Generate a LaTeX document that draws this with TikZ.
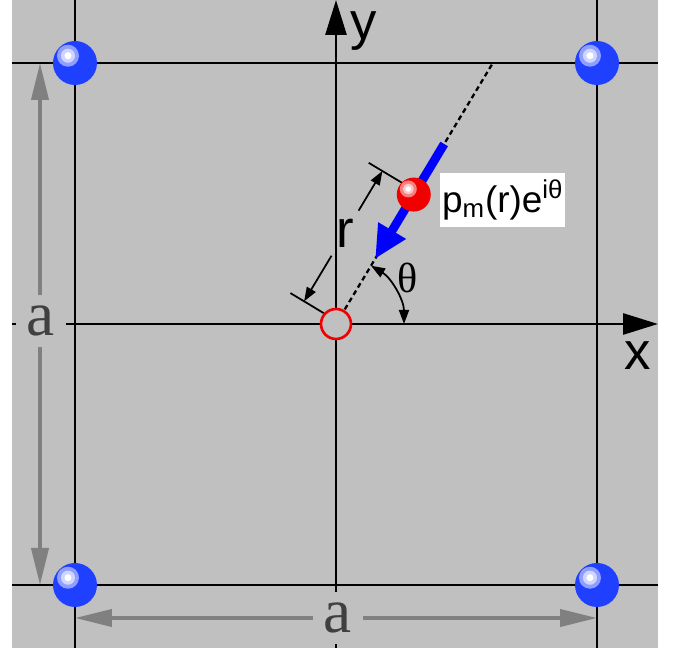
\documentclass[tikz,border=0pt]{standalone}
\usepackage{fontspec}
\setmainfont{Liberation Sans}
\newfontfamily\seriffont{Liberation Serif}
\usetikzlibrary{arrows.meta, calc}

\definecolor{bggray}{RGB}{192,192,192}
\definecolor{dimgray}{RGB}{128,128,128}
\definecolor{txtgray}{RGB}{64,64,64}
\definecolor{atomblue}{RGB}{32,64,255}
\definecolor{atomred}{RGB}{240,0,0}

% 小球：位置、半径、颜色
\newcommand{\ball}[3]{%
	\begin{scope}[shift={(#1)}]
		\fill[#3] (0,0) circle (#2);
		\fill[#3!50!white] (-0.32*#2,0.33*#2) circle (0.5*#2);
		\fill[#3!22!white] (-0.32*#2,0.33*#2) circle (0.32*#2);
		\fill[white] (-0.32*#2,0.33*#2) circle (0.16*#2);
	\end{scope}}

\begin{document}
\begin{tikzpicture}[>={Triangle[length=0.28cm, width=0.2cm]},
	latline/.style={line width=1.6pt},
	axisline/.style={line width=1.6pt, -{Triangle[length=0.7cm, width=0.42cm]}},
	dimarrow/.style={dimgray, line width=2.3pt, {Triangle[length=0.74cm, width=0.34cm]}-{Triangle[length=0.74cm, width=0.34cm]}},
	alabel/.style={fill=bggray, text=txtgray, inner sep=0.22cm, font=\seriffont\fontsize{36}{36}\selectfont},
	biglabel/.style={font=\fontsize{30}{30}\selectfont},
	rdim/.style={line width=1pt}]
	% ==================== 背景 ====================
	\useasboundingbox (-6.72,-6.52) rectangle (6.9,6.48);
	\fill[bggray] (-6.48,-6.48) rectangle (6.44,6.48);
	
	% 晶格线
	\foreach \y in {-5.22,5.22}
		\draw[latline] (-6.48,\y) -- (6.44,\y);
	\foreach \x in {-5.22,5.22}
		\draw[latline] (\x,-6.48) -- (\x,6.48);
	
	% 坐标轴
	\draw[axisline] (-6.48,0) -- (6.44,0);
	\draw[axisline] (0,-6.48) -- (0,6.48);
	\node[biglabel] (xlab) at (6.04,-0.64) {x};
	\node[biglabel] (ylab) at (0.56,5.85) {y};
	
	% 晶格常数 a
	\coordinate (aB1) at (-5.22,-5.88);
	\coordinate (aB2) at (5.22,-5.88);
	\coordinate (aL1) at (-5.92,5.22);
	\coordinate (aL2) at (-5.92,-5.22);
	\draw[dimarrow] (aB1) -- (aB2);
	\draw[dimarrow] (aL1) -- (aL2);
	\node[alabel] (abot) at (0.04,-5.88) {a};
	\node[alabel] (aleft) at (-5.9,0.06) {a};
	
	% 四角原子
	\foreach \x in {-5.22,5.22}
		\foreach \y in {-5.22,5.22}
			\ball{\x,\y}{0.44}{atomblue};
	
	% 径向虚线
	\coordinate (O) at (0,0);
	\coordinate (P) at (59:3.02);
	\coordinate (Dend) at (59:6.05);
	\draw[line width=1.3pt, dash pattern=on 0.1cm off 0.07cm] (O) -- (Dend);
	
	% 距离 r
	\draw[rdim] ($(59:0.06)+(149:0.32)$) -- ($(59:0.06)+(149:1.1)$);
	\draw[rdim] ($(59:3.1)+(149:0.32)$) -- ($(59:3.1)+(149:1.1)$);
	\node[biglabel, inner sep=0.16cm] (rlab) at ($(59:1.65)+(149:0.78)$) {r};
	\coordinate (r0) at ($(59:0.06)+(149:0.78)$);
	\coordinate (r1) at ($(59:3.1)+(149:0.78)$);
	\draw[rdim, ->] (rlab) -- (r0);
	\draw[rdim, ->] (rlab) -- (r1);
	
	% 角 θ
	\draw[rdim, <->] (0:1.36) arc[start angle=0, end angle=59, radius=1.36];
	\node[font=\seriffont\fontsize{24}{24}\selectfont] (thlab) at (1.44,0.93) {θ};
	
	% 蓝色箭头
	\coordinate (b0) at (59:4.2);
	\coordinate (b1) at (59:1.52);
	\draw[blue, line width=5pt, -{Triangle[length=0.66cm, width=0.6cm]}] (b0) -- (b1);
	
	% 红色粒子与空位
	\ball{P}{0.34}{atomred};
	\draw[atomred, line width=1.5pt, fill=bggray] (O) circle (0.3);
	\node[fill=white, inner xsep=1pt, inner ysep=4pt, anchor=west, font=\fontsize{21}{21}\selectfont] (plab) at (2.08,2.48) {p\textsubscript{m}(r)e\textsuperscript{iθ}};
\end{tikzpicture}
\end{document}
